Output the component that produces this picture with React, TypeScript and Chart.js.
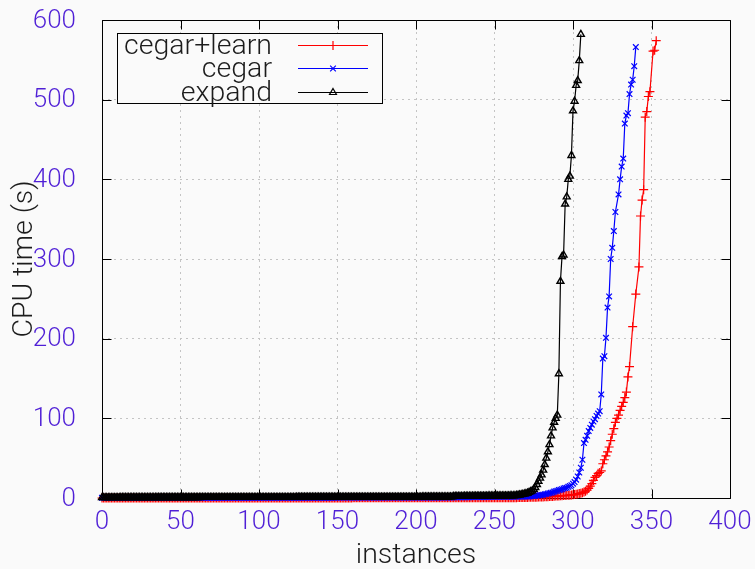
import React, { useEffect, useRef } from 'react';
import { Chart, registerables } from 'chart.js';

Chart.register(...registerables);

// ---------- data ----------
const SERIES_LABELS = ['cegar+learn', 'cegar', 'expand'];
const X_TICKS = [0, 50, 100, 150, 200, 250, 300, 350, 400];
const Y_TICKS = [0, 100, 200, 300, 400, 500, 600];
const X_TITLE = 'instances';
const Y_TITLE = 'CPU time (s)';

// CPU time per instance (sorted); null = no marker visible at that instance
const CEGAR_LEARN: (number | null)[] = [
  0, 0, 0, 0, 0, 0, 0, 0, 0, 0,
  0, 0, 0, 0, 0, 0, 0, 0, 0, 0,
  0, 0, 0, 0, 0, 0, 0, 0, 0, 0,
  0, 0, 0, 0, 0, 0, 0, 0, 0, 0,
  0, 0, 0, 0, 0, 0, 0, 0, 0, 0,
  0, 0, 0, 0, 0, 0, 0, 0, 0, 0,
  0, 0, 0, 0, 0, 0, 0, 0, 0, 0,
  0, 0, 0, 0, 0, 0, 0, 0, 0, 0,
  0.1, 0.1, 0.1, 0.1, 0.1, 0.1, 0.1, 0.1, 0.1, 0.1,
  0.1, 0.1, 0.1, 0.1, 0.1, 0.1, 0.1, 0.1, 0.1, 0.1,
  0.1, 0.1, 0.1, 0.1, 0.1, 0.1, 0.1, 0.1, 0.1, 0.1,
  0.1, 0.1, 0.1, 0.1, 0.1, 0.1, 0.1, 0.1, 0.1, 0.1,
  0.1, 0.1, 0.1, 0.1, 0.1, 0.1, 0.1, 0.1, 0.1, 0.1,
  0.1, 0.1, 0.1, 0.1, 0.1, 0.1, 0.1, 0.1, 0.1, 0.1,
  0.1, 0.1, 0.1, 0.1, 0.1, 0.1, 0.1, 0.1, 0.1, 0.1,
  0.1, 0.1, 0.1, 0.1, 0.1, 0.1, 0.1, 0.1, 0.1, 0.1,
  0.2, 0.2, 0.2, 0.2, 0.2, 0.2, 0.2, 0.2, 0.2, 0.2,
  0.2, 0.2, 0.2, 0.2, 0.2, 0.2, 0.2, 0.2, 0.2, 0.2,
  0.2, 0.2, 0.2, 0.2, 0.2, 0.2, 0.2, 0.2, 0.2, 0.2,
  0.2, 0.2, 0.2, 0.2, 0.2, 0.2, 0.2, 0.2, 0.2, 0.2,
  0.2, 0.2, 0.2, 0.2, 0.2, 0.2, 0.2, 0.2, 0.2, 0.2,
  0.2, 0.2, 0.2, 0.2, 0.2, 0.2, 0.2, 0.2, 0.2, 0.2,
  0.3, 0.3, 0.3, 0.3, 0.3, 0.3, 0.3, 0.3, 0.3, 0.3,
  0.3, 0.3, 0.3, 0.3, 0.3, 0.3, 0.3, 0.3, 0.3, 0.3,
  0.3, 0.3, 0.3, 0.3, 0.3, 0.3, 0.3, 0.3, 0.3, 0.3,
  0.3, 0.3, 0.3, 0.3, 0.3, 0.3, 0.3, 0.3, 0.3, 0.3,
  0.3, 0.3, 0.4, 0.4, 0.4, 0.5, 0.5, 0.5, 0.6, 0.6,
  0.7, 0.7, 0.8, 0.8, 0.9, 0.9, 1.0, 1.0, 1.1, 1.2,
  1.3, 1.4, 1.5, 1.6, 1.7, 1.8, 1.9, 2.0, 2.2, 2.4,
  2.5, 2.6, 2.8, 2.9, 3.0, 3.1, 3.3, 3.4, 3.6, 3.8,
  4, 4.3, 4.7, 5, 5.5, 6, 6.5, 7.5, 8.5, 10,
  12, 15, 18, 22, 26, 28, 31, 32, 34, 43,
  48, 53, 58, 64, 72, 80, 87, 95, 100, 104,
  110, 115, 120, 126, 133, 152, 165, null, 215, null,
  256, null, 290, 354, 374, 387, 478, 485, 504, 510,
  null, 561, 562, 574,
];

const CEGAR: (number | null)[] = [
  0.2, 0.2, 0.2, 0.2, 0.2, 0.2, 0.2, 0.2, 0.2, 0.2,
  0.2, 0.2, 0.2, 0.2, 0.2, 0.2, 0.2, 0.2, 0.2, 0.2,
  0.2, 0.2, 0.2, 0.2, 0.2, 0.2, 0.2, 0.2, 0.2, 0.2,
  0.2, 0.2, 0.2, 0.2, 0.2, 0.2, 0.2, 0.2, 0.2, 0.2,
  0.2, 0.2, 0.2, 0.2, 0.2, 0.2, 0.2, 0.2, 0.2, 0.2,
  0.3, 0.3, 0.3, 0.3, 0.3, 0.3, 0.3, 0.3, 0.3, 0.3,
  0.3, 0.3, 0.3, 0.3, 0.3, 0.3, 0.3, 0.3, 0.3, 0.3,
  0.3, 0.3, 0.3, 0.3, 0.3, 0.3, 0.3, 0.3, 0.3, 0.3,
  0.3, 0.3, 0.3, 0.3, 0.3, 0.3, 0.3, 0.3, 0.3, 0.3,
  0.3, 0.3, 0.3, 0.3, 0.3, 0.3, 0.3, 0.3, 0.3, 0.3,
  0.4, 0.4, 0.4, 0.4, 0.4, 0.4, 0.4, 0.4, 0.4, 0.4,
  0.4, 0.4, 0.4, 0.4, 0.4, 0.4, 0.4, 0.4, 0.4, 0.4,
  0.4, 0.4, 0.4, 0.4, 0.4, 0.4, 0.4, 0.4, 0.4, 0.4,
  0.4, 0.4, 0.4, 0.4, 0.4, 0.4, 0.4, 0.4, 0.4, 0.4,
  0.4, 0.4, 0.4, 0.4, 0.4, 0.4, 0.4, 0.4, 0.4, 0.4,
  0.5, 0.5, 0.5, 0.5, 0.5, 0.5, 0.5, 0.5, 0.5, 0.5,
  0.5, 0.5, 0.5, 0.5, 0.5, 0.5, 0.5, 0.5, 0.5, 0.5,
  0.5, 0.5, 0.5, 0.5, 0.5, 0.5, 0.5, 0.5, 0.5, 0.5,
  0.5, 0.5, 0.5, 0.5, 0.5, 0.5, 0.5, 0.5, 0.5, 0.5,
  0.6, 0.6, 0.6, 0.6, 0.6, 0.6, 0.6, 0.6, 0.6, 0.6,
  0.6, 0.6, 0.6, 0.6, 0.6, 0.6, 0.6, 0.6, 0.6, 0.6,
  0.6, 0.6, 0.6, 0.6, 0.6, 0.6, 0.6, 0.6, 0.6, 0.6,
  0.7, 0.7, 0.7, 0.7, 0.9, 0.9, 0.9, 1.0, 1.0, 1.0,
  1.0, 1.1, 1.1, 1.1, 1.1, 1.2, 1.2, 1.2, 1.2, 1.3,
  1.3, 1.3, 1.3, 1.4, 1.4, 1.4, 1.4, 1.5, 1.5, 1.5,
  1.5, 1.5, 1.6, 1.6, 1.6, 1.6, 1.6, 1.7, 1.7, 1.7,
  1.7, 1.7, 1.7, 1.8, 1.8, 1.8, 1.8, 1.8, 1.8, 1.9,
  1.9, 1.9,
  2, 2.2, 2.4, 2.6, 2.8, 3, 3.2, 3.5, 3.8, 4.2,
  4.6, 5, 5.5, 6, 6.5, 7, 8, 8.5, 9, 10,
  10.5, 11, 12, 12.5, 13, 14, 15, 16, 18, 20,
  23, 27, 32, 38, 48, 69, 73, 78, 84, 88,
  92, 96, 99, 103, 106, 109, 130, 175, 178, 201,
  239, 253, 300, 314, 335, 359, null, 381, 400, 416,
  426, 470, 480, 483, 507, 519, 525, 542, 566,
];

const EXPAND: (number | null)[] = [
  0.5, 0.5, 0.5, 0.5, 0.5, 0.5, 0.5, 0.5, 0.5, 0.5,
  0.5, 0.5, 0.6, 0.6, 0.6, 0.6, 0.6, 0.6, 0.6, 0.6,
  0.6, 0.6, 0.6, 0.6, 0.6, 0.6, 0.6, 0.6, 0.6, 0.6,
  0.6, 0.6, 0.6, 0.6, 0.7, 0.7, 0.7, 0.7, 0.7, 0.7,
  0.7, 0.7, 0.7, 0.7, 0.7, 0.7, 0.7, 0.7, 0.7, 0.7,
  0.7, 0.7, 0.7, 0.7, 0.7, 0.7, 0.7, 0.7, 0.7, 0.7,
  0.7, 0.7, 0.7, 0.8, 0.8, 0.8, 0.8, 0.8, 0.8, 0.8,
  0.8, 0.8, 0.8, 0.8, 0.8, 0.8, 0.8, 0.8, 0.8, 0.8,
  0.8, 0.8, 0.8, 0.8, 0.8, 0.8, 0.8, 0.8, 0.8, 0.8,
  0.8, 0.8, 0.8, 0.8, 0.8, 0.9, 0.9, 0.9, 0.9, 0.9,
  0.9, 0.9, 0.9, 0.9, 0.9, 0.9, 0.9, 0.9, 0.9, 0.9,
  0.9, 0.9, 0.9, 0.9, 0.9, 0.9, 0.9, 0.9, 0.9, 0.9,
  0.9, 0.9, 0.9, 0.9, 1.0, 1.0, 1.0, 1.0, 1.0, 1.0,
  1.0, 1.0, 1.0, 1.0, 1.0, 1.0, 1.0, 1.0, 1.0, 1.0,
  1.0, 1.0, 1.0, 1.0, 1.0, 1.0, 1.0, 1.0, 1.0, 1.0,
  1.0, 1.0, 1.0, 1.0, 1.0, 1.1, 1.1, 1.1, 1.1, 1.1,
  1.1, 1.1, 1.1, 1.1, 1.1, 1.1, 1.1, 1.1, 1.1, 1.1,
  1.1, 1.1, 1.1, 1.1, 1.1, 1.1, 1.1, 1.1, 1.1, 1.1,
  1.1, 1.1, 1.1, 1.2, 1.2, 1.2, 1.2, 1.2, 1.2, 1.2,
  1.2, 1.2, 1.2, 1.2, 1.2, 1.2, 1.2, 1.2, 1.2, 1.2,
  1.2, 1.2, 1.2, 1.2, 1.3, 1.3, 1.3, 1.3, 1.3, 1.3,
  1.3, 1.3, 1.3, 1.3, 1.3, 1.3, 1.3, 1.3, 1.3, 1.3,
  1.3, 1.4, 1.4, 1.4,
  2.0, 2.0, 2.0, 2.1, 2.1, 2.1, 2.1, 2.2, 2.2, 2.2,
  2.2, 2.2, 2.3, 2.3, 2.3, 2.3, 2.3, 2.4, 2.4, 2.4,
  2.4, 2.4, 2.5, 2.5, 2.5, 2.5, 2.5, 2.6, 2.6, 2.6,
  2.6, 2.6, 2.7, 2.7, 2.7, 2.7, 2.8, 2.8, 2.8,
  3, 3.2, 3.5, 3.8, 4.2, 4.6, 5, 5.5, 6, 7,
  8, 9, 11, 13, 17, 21, 25, 29, 35, 42,
  50, 58, 67, 78, 88, 95, 100, 104, 156, 272,
  303, 305, 369, 378, 400, 404, 430, 486, 498, 518,
  524, 549, 582,
];

// ---------- styles ----------
const BG = '#fafafa';
const TICK_COLOR = '#4f1fd6';
const TEXT_COLOR = '#1c1c1c';
const FONT_FAMILY = "'Roboto Light', Roboto";
const SERIES_STYLE = [
  { color: '#ff0000', pointStyle: 'cross', radius: 4.5, order: 3, pbw: 1.2 },
  { color: '#0000ff', pointStyle: 'crossRot', radius: 4.0, order: 2, pbw: 1.2 },
  { color: '#000000', pointStyle: 'triangle', radius: 4.0, order: 1, pbw: 1.4 },
];
const SERIES_DATA = [CEGAR_LEARN, CEGAR, EXPAND];

function toPoints(values: (number | null)[]) {
  const pts: { x: number; y: number }[] = [];
  values.forEach((v, i) => {
    if (v !== null) pts.push({ x: i, y: v });
  });
  return pts;
}

function drawMarker(ctx: CanvasRenderingContext2D, style: string, x: number, y: number, r: number) {
  ctx.beginPath();
  if (style === 'cross') {
    ctx.moveTo(x - r, y); ctx.lineTo(x + r, y);
    ctx.moveTo(x, y - r); ctx.lineTo(x, y + r);
  } else if (style === 'crossRot') {
    const d = r * Math.SQRT1_2;
    ctx.moveTo(x - d, y - d); ctx.lineTo(x + d, y + d);
    ctx.moveTo(x - d, y + d); ctx.lineTo(x + d, y - d);
  } else {
    const a = (2 * Math.PI) / 3;
    ctx.moveTo(x, y - r);
    ctx.lineTo(x + Math.sin(a) * r, y - Math.cos(a) * r);
    ctx.lineTo(x + Math.sin(2 * a) * r, y - Math.cos(2 * a) * r);
    ctx.closePath();
  }
  ctx.stroke();
}

const bgPlugin = {
  id: 'bg',
  beforeDraw(chart: any) {
    const { ctx, width, height } = chart;
    ctx.save();
    ctx.fillStyle = BG;
    ctx.fillRect(0, 0, width, height);
    ctx.restore();
  },
};

const framePlugin = {
  id: 'frame',
  beforeDatasetsDraw(chart: any) {
    const { ctx, chartArea: a, scales } = chart;
    const L = Math.round(a.left) + 0.5;
    const R = Math.round(a.right) + 0.5;
    const T = Math.round(a.top) + 0.5;
    const B = Math.round(a.bottom) + 0.5;
    const tl = 9;
    ctx.save();
    ctx.strokeStyle = '#000';
    ctx.lineWidth = 1;
    ctx.beginPath();
    ctx.rect(L, T, R - L, B - T);
    X_TICKS.forEach((v) => {
      const px = Math.round(scales.x.getPixelForValue(v)) + 0.5;
      ctx.moveTo(px, B); ctx.lineTo(px, B - tl);
      ctx.moveTo(px, T); ctx.lineTo(px, T + tl);
    });
    Y_TICKS.forEach((v) => {
      const py = Math.round(scales.y.getPixelForValue(v)) + 0.5;
      ctx.moveTo(L, py); ctx.lineTo(L + tl, py);
      ctx.moveTo(R, py); ctx.lineTo(R - tl, py);
    });
    ctx.stroke();
    ctx.restore();
  },
};

const legendPlugin = {
  id: 'customLegend',
  afterDraw(chart: any) {
    const { ctx } = chart;
    const box = { x: 117.5, y: 33.5, w: 265, h: 70 };
    const rows = [45, 68, 92];
    ctx.save();
    ctx.fillStyle = BG;
    ctx.fillRect(box.x, box.y, box.w, box.h);
    ctx.strokeStyle = '#000';
    ctx.lineWidth = 1;
    ctx.strokeRect(box.x, box.y, box.w, box.h);
    ctx.font = `300 28.5px ${FONT_FAMILY}`;
    ctx.textAlign = 'right';
    ctx.textBaseline = 'middle';
    chart.data.datasets.forEach((ds: any, i: number) => {
      const y = rows[i];
      const st = SERIES_STYLE[i];
      ctx.fillStyle = TEXT_COLOR;
      ctx.fillText(ds.label, 272, y + 1);
      ctx.strokeStyle = st.color;
      ctx.lineWidth = 1.2;
      ctx.beginPath();
      ctx.moveTo(298, y + 0.5);
      ctx.lineTo(368, y + 0.5);
      ctx.stroke();
      drawMarker(ctx, st.pointStyle, 333, y + 0.5, st.radius);
    });
    ctx.restore();
  },
};

export default function App() {
  const canvasRef = useRef<HTMLCanvasElement | null>(null);

  useEffect(() => {
    document.body.style.margin = '0';
    const canvas = canvasRef.current;
    if (!canvas) return;
    const tickFont = { family: FONT_FAMILY, size: 26, weight: '300' as any };
    const titleFont = { family: FONT_FAMILY, size: 28.5, weight: '300' as any };
    const chart = new Chart(canvas, {
      type: 'line',
      data: {
        datasets: SERIES_LABELS.map((label, i) => ({
          label,
          data: toPoints(SERIES_DATA[i]),
          borderColor: SERIES_STYLE[i].color,
          backgroundColor: 'rgba(0,0,0,0)',
          pointBorderColor: SERIES_STYLE[i].color,
          pointBackgroundColor: 'rgba(0,0,0,0)',
          pointStyle: SERIES_STYLE[i].pointStyle as any,
          pointRadius: SERIES_STYLE[i].radius,
          pointBorderWidth: SERIES_STYLE[i].pbw,
          pointHoverRadius: SERIES_STYLE[i].radius,
          borderWidth: 1.2,
          tension: 0,
          fill: false,
          clip: false as any,
          order: SERIES_STYLE[i].order,
        })),
      },
      options: {
        animation: false,
        responsive: false,
        events: [],
        layout: { padding: { top: 20, right: 25, bottom: 0, left: 0 } },
        plugins: {
          legend: { display: false },
          tooltip: { enabled: false },
        },
        scales: {
          x: {
            type: 'linear',
            min: 0,
            max: 400,
            afterFit: (s: any) => {
              s.height = 71;
              s.paddingLeft = 0;
              s.paddingRight = 0;
            },
            afterBuildTicks: (s: any) => { s.ticks = X_TICKS.map((v) => ({ value: v })); },
            ticks: { color: TICK_COLOR, font: tickFont, padding: 8, maxRotation: 0, autoSkip: false },
            grid: { color: '#c4c4c4', lineWidth: 1, drawTicks: false },
            border: { display: false, dash: [2, 4] },
            title: {
              display: true,
              text: X_TITLE,
              color: TEXT_COLOR,
              font: titleFont,
              padding: { top: 0, bottom: -3 },
            },
          },
          y: {
            type: 'linear',
            min: 0,
            max: 600,
            afterFit: (s: any) => {
              s.width = 102;
              s.paddingTop = 0;
              s.paddingBottom = 0;
            },
            afterBuildTicks: (s: any) => { s.ticks = Y_TICKS.map((v) => ({ value: v })); },
            ticks: { color: TICK_COLOR, font: tickFont, padding: 26, autoSkip: false },
            grid: { color: '#c4c4c4', lineWidth: 1, drawTicks: false },
            border: { display: false, dash: [2, 4] },
            title: {
              display: true,
              text: Y_TITLE,
              color: TEXT_COLOR,
              font: titleFont,
              padding: { top: 7, bottom: 0 },
            },
          },
        },
      },
      plugins: [bgPlugin, framePlugin, legendPlugin],
    });
    return () => chart.destroy();
  }, []);

  return (
    <div style={{ width: 755, height: 569 }}>
      <canvas ref={canvasRef} width={755} height={569} style={{ display: 'block' }} />
    </div>
  );
}
